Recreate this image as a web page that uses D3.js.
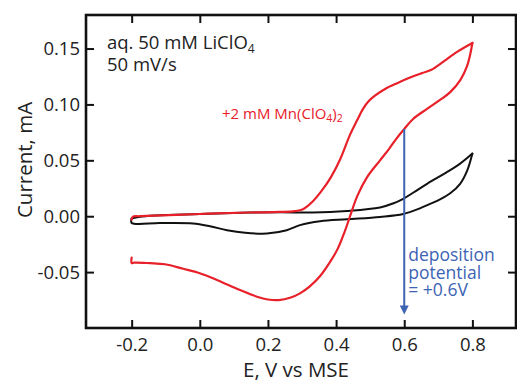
<!DOCTYPE html>
<html>
<head>
<meta charset="utf-8">
<script src="https://cdn.jsdelivr.net/npm/d3@7"></script>
<style>
  body { margin: 0; background: #fff; }
  text { font-family: "Open Sans", "Noto Sans", sans-serif; }
</style>
</head>
<body>
<svg width="517" height="385"></svg>
<script>
// tick values
var xTicks = [-0.2, 0.0, 0.2, 0.4, 0.6, 0.8];
var yTicks = [-0.05, 0.00, 0.05, 0.10, 0.15];

// +2 mM Mn(ClO4)2 : anodic (upper) branch, -0.2 -> 0.8 V
var mnUpE = [-0.2, -0.196, -0.176, 0.0, 0.147, 0.235, 0.279, 0.303, 0.332, 0.359, 0.385, 0.412, 0.441, 0.462, 0.479, 0.496, 0.515, 0.545, 0.579, 0.617, 0.652, 0.680, 0.714, 0.755, 0.8];
var mnUpI = [-0.003, -0.0004, 0.0, 0.002, 0.0033, 0.0038, 0.0045, 0.0063, 0.0134, 0.0233, 0.035, 0.051, 0.073, 0.086, 0.096, 0.103, 0.108, 0.114, 0.119, 0.124, 0.128, 0.131, 0.138, 0.147, 0.155];
// return (lower) branch, 0.8 -> -0.2 V
var mnDnE = [0.8, 0.793, 0.784, 0.765, 0.735, 0.705, 0.667, 0.626, 0.600, 0.576, 0.555, 0.529, 0.491, 0.462, 0.441, 0.425, 0.405, 0.38, 0.352, 0.322, 0.294, 0.265, 0.232, 0.200, 0.168, 0.118, 0.050, 0.0, -0.049, -0.102, -0.146, -0.193, -0.2, -0.2];
var mnDnI = [0.155, 0.144, 0.134, 0.122, 0.111, 0.104, 0.096, 0.087, 0.078, 0.069, 0.060, 0.050, 0.035, 0.018, 0.0, -0.014, -0.029, -0.042, -0.054, -0.063, -0.069, -0.073, -0.075, -0.0745, -0.072, -0.066, -0.057, -0.051, -0.047, -0.043, -0.042, -0.0415, -0.042, -0.037];

// blank electrolyte (aq. 50 mM LiClO4)
var blankUpE = [-0.2, -0.176, 0.0, 0.147, 0.235, 0.332, 0.432, 0.529, 0.567, 0.597, 0.626, 0.667, 0.723, 0.764, 0.8];
var blankUpI = [-0.002, -0.0004, 0.002, 0.0033, 0.0036, 0.0033, 0.0047, 0.0078, 0.0114, 0.0156, 0.021, 0.029, 0.039, 0.047, 0.056];
var blankDnE = [0.8, 0.785, 0.764, 0.735, 0.705, 0.676, 0.646, 0.597, 0.529, 0.432, 0.353, 0.294, 0.255, 0.197, 0.133, 0.080, 0.030, -0.020, -0.117, -0.2, -0.2];
var blankDnI = [0.056, 0.041, 0.029, 0.0205, 0.0150, 0.0110, 0.0070, 0.0020, -0.0006, -0.0027, -0.0045, -0.008, -0.0125, -0.0155, -0.0148, -0.0125, -0.009, -0.0065, -0.0061, -0.006, -0.002];

var depositionE = 0.6;
var arrowFrom = 0.078, arrowTo = -0.088;

var svg = d3.select("svg"),
    margin = {top: 15, right: 1, bottom: 57, left: 86},
    width = +svg.attr("width") - margin.left - margin.right,
    height = +svg.attr("height") - margin.top - margin.bottom;

var x = d3.scaleLinear().domain([-0.334, 0.928]).range([0, width]);
var y = d3.scaleLinear().domain([-0.1, 0.18]).range([height, 0]);

var g = svg.append("g")
    .attr("transform", "translate(" + margin.left + "," + margin.top + ")");

function pts(es, is) {
  return es.map(function(e, i) { return [e, is[i]]; });
}

var line = d3.line()
    .x(function(d) { return x(d[0]); })
    .y(function(d) { return y(d[1]); })
    .curve(d3.curveCatmullRom.alpha(0.5));

// blank CV
[pts(blankUpE, blankUpI), pts(blankDnE, blankDnI)].forEach(function(p) {
  g.append("path").datum(p)
    .attr("d", line)
    .attr("fill", "none")
    .attr("stroke", "#111")
    .attr("stroke-width", 2)
    .attr("stroke-linecap", "round")
    .attr("stroke-linejoin", "round");
});

// Mn CV
[pts(mnUpE, mnUpI), pts(mnDnE, mnDnI)].forEach(function(p) {
  g.append("path").datum(p)
    .attr("d", line)
    .attr("fill", "none")
    .attr("stroke", "#e8202a")
    .attr("stroke-width", 2.2)
    .attr("stroke-linecap", "round")
    .attr("stroke-linejoin", "round");
});

// deposition potential arrow
var blue = "#3d63b4";
g.append("line")
    .attr("x1", x(depositionE)).attr("x2", x(depositionE))
    .attr("y1", y(arrowFrom)).attr("y2", y(arrowTo) - 6)
    .attr("stroke", blue).attr("stroke-width", 2);
g.append("path")
    .attr("d", "M" + (x(depositionE) - 4.5) + "," + (y(arrowTo) - 9) +
               "L" + (x(depositionE) + 4.5) + "," + (y(arrowTo) - 9) +
               "L" + x(depositionE) + "," + y(arrowTo) + "Z")
    .attr("fill", blue);

var dep = g.append("text")
    .attr("x", x(depositionE) + 4)
    .attr("y", 246)
    .attr("fill", blue)
    .attr("font-size", "17.5px");
["deposition", "potential", "= +0.6V"].forEach(function(s, i) {
  dep.append("tspan").attr("x", x(depositionE) + 4).attr("dy", i ? 17.5 : 0).text(s);
});

// axes (ticks inside on all four sides)
g.append("g")
    .attr("transform", "translate(0," + height + ")")
    .call(d3.axisBottom(x).tickValues(xTicks).tickSizeInner(-8).tickSizeOuter(0).tickPadding(10)
      .tickFormat(function(d) { return d.toFixed(1); }));
g.append("g")
    .call(d3.axisTop(x).tickValues(xTicks).tickSizeInner(-8).tickSizeOuter(0).tickFormat(""));
g.append("g")
    .call(d3.axisLeft(y).tickValues(yTicks).tickSizeInner(-8).tickSizeOuter(0).tickPadding(6)
      .tickFormat(function(d) { return d.toFixed(2); }));
g.append("g")
    .attr("transform", "translate(" + width + ",0)")
    .call(d3.axisRight(y).tickValues(yTicks).tickSizeInner(-8).tickSizeOuter(0).tickFormat(""));

g.selectAll(".domain").remove();
g.selectAll(".tick line").attr("stroke", "#111").attr("stroke-width", 2);
g.selectAll(".tick text")
    .attr("fill", "#222")
    .attr("font-size", "18.5px")
    .attr("font-family", "'Open Sans', sans-serif");

g.append("rect")
    .attr("width", width).attr("height", height)
    .attr("fill", "none").attr("stroke", "#111").attr("stroke-width", 2.6);

// annotations
var t1 = g.append("text")
    .attr("x", 21).attr("y", 34)
    .attr("fill", "#222").attr("font-size", "18.5px");
t1.append("tspan").text("aq. 50 mM LiClO");
t1.append("tspan").attr("font-size", "12px").attr("dy", 4).text("4");
g.append("text")
    .attr("x", 21).attr("y", 56)
    .attr("fill", "#222").attr("font-size", "18.5px")
    .text("50 mV/s");

var t2 = g.append("text")
    .attr("x", 136).attr("y", 104)
    .attr("fill", "#e8202a").attr("font-size", "15px");
t2.append("tspan").text("+2 mM Mn(ClO");
t2.append("tspan").attr("font-size", "10.5px").attr("dy", 3).text("4");
t2.append("tspan").attr("dy", -3).text(")");
t2.append("tspan").attr("font-size", "10.5px").attr("dy", 3).text("2");

// axis titles
svg.append("text")
    .attr("x", 296).attr("y", 377)
    .attr("text-anchor", "middle")
    .attr("fill", "#222").attr("font-size", "20.5px")
    .text("E, V vs MSE");
svg.append("text")
    .attr("transform", "translate(32,160) rotate(-90)")
    .attr("text-anchor", "middle")
    .attr("fill", "#222").attr("font-size", "20.5px")
    .text("Current, mA");
</script>
</body>
</html>
